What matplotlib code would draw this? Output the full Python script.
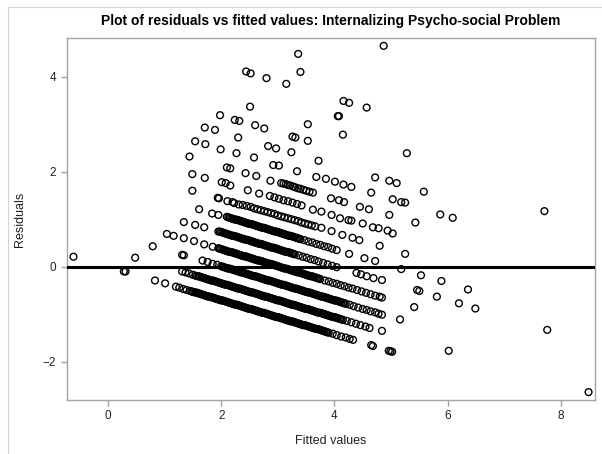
import matplotlib
matplotlib.use("Agg")
import matplotlib.pyplot as plt
from matplotlib.lines import Line2D

# (fitted value, residual) pairs, grouped by band
band0 = [(-0.61, 0.21), (0.28, -0.10), (0.31, -0.10), (0.83, -0.29), (1.01, -0.35),
         (1.20, -0.42), (1.26, -0.44), (1.33, -0.47), (1.39, -0.49),
         (1.45, -0.51), (1.50, -0.53), (1.55, -0.54), (1.60, -0.56), (1.65, -0.58),
         (1.70, -0.60), (1.75, -0.62), (1.80, -0.63), (1.85, -0.65), (1.90, -0.67),
         (1.95, -0.69), (2.00, -0.71), (2.05, -0.72), (2.10, -0.74), (2.15, -0.76),
         (2.20, -0.78), (2.25, -0.80), (2.30, -0.81), (2.35, -0.83), (2.40, -0.85),
         (2.45, -0.87), (2.50, -0.89), (2.55, -0.90), (2.60, -0.92), (2.65, -0.94),
         (2.70, -0.96), (2.75, -0.97), (2.80, -0.99), (2.85, -1.01), (2.90, -1.03),
         (2.95, -1.05), (3.00, -1.06), (3.05, -1.08), (3.10, -1.10), (3.15, -1.12),
         (3.20, -1.14), (3.25, -1.15), (3.30, -1.17), (3.35, -1.19), (3.40, -1.21),
         (3.45, -1.23), (3.50, -1.24), (3.55, -1.26), (3.60, -1.28), (3.65, -1.30),
         (3.70, -1.31), (3.75, -1.33), (3.80, -1.35), (3.85, -1.37), (3.90, -1.39),
         (3.97, -1.41), (4.04, -1.44), (4.12, -1.47), (4.20, -1.49), (4.27, -1.52),
         (4.33, -1.54), (4.65, -1.65), (4.68, -1.67), (4.96, -1.77), (4.99, -1.78),
         (5.02, -1.79)]
band0_fill = [(1.475, -0.52), (1.525, -0.54), (1.575, -0.55), (1.625, -0.57), (1.675, -0.59),
              (1.725, -0.61), (1.775, -0.63), (1.825, -0.64), (1.875, -0.66), (1.925, -0.68),
              (1.975, -0.70), (2.025, -0.71), (2.075, -0.73), (2.125, -0.75), (2.175, -0.77),
              (2.225, -0.79), (2.275, -0.80), (2.325, -0.82), (2.375, -0.84), (2.425, -0.86),
              (2.475, -0.88), (2.525, -0.89), (2.575, -0.91), (2.625, -0.93), (2.675, -0.95),
              (2.725, -0.97), (2.775, -0.98), (2.825, -1.00), (2.875, -1.02), (2.925, -1.04),
              (2.975, -1.06), (3.025, -1.07), (3.075, -1.09), (3.125, -1.11), (3.175, -1.13),
              (3.225, -1.15), (3.275, -1.16), (3.325, -1.18), (3.375, -1.20), (3.425, -1.22),
              (3.475, -1.23), (3.525, -1.25), (3.575, -1.27), (3.625, -1.29), (3.675, -1.31),
              (3.725, -1.32), (3.775, -1.34), (3.825, -1.36), (3.875, -1.38)]

band1 = [(0.48, 0.19), (1.31, -0.10), (1.37, -0.12), (1.43, -0.14), (1.50, -0.17),
         (1.55, -0.19), (1.60, -0.20), (1.65, -0.22), (1.70, -0.24), (1.75, -0.26),
         (1.80, -0.28), (1.85, -0.29), (1.90, -0.31), (1.95, -0.33), (2.00, -0.35),
         (2.05, -0.37), (2.10, -0.38), (2.15, -0.40), (2.20, -0.42), (2.25, -0.44),
         (2.30, -0.46), (2.35, -0.47), (2.40, -0.49), (2.45, -0.51), (2.50, -0.53),
         (2.55, -0.54), (2.60, -0.56), (2.65, -0.58), (2.70, -0.60), (2.75, -0.62),
         (2.80, -0.63), (2.85, -0.65), (2.90, -0.67), (2.95, -0.69), (3.00, -0.71),
         (3.05, -0.72), (3.10, -0.74), (3.15, -0.76), (3.20, -0.78), (3.25, -0.80),
         (3.30, -0.81), (3.35, -0.83), (3.40, -0.85), (3.45, -0.87), (3.50, -0.89),
         (3.55, -0.90), (3.60, -0.92), (3.65, -0.94), (3.70, -0.96), (3.75, -0.97),
         (3.80, -0.99), (3.85, -1.01), (3.90, -1.03), (3.95, -1.05), (4.00, -1.06),
         (4.05, -1.08), (4.10, -1.10), (4.15, -1.12), (4.22, -1.14), (4.30, -1.17),
         (4.38, -1.20), (4.46, -1.23), (4.55, -1.26), (4.62, -1.29), (4.84, -1.35),
         (6.02, -1.77), (8.49, -2.64)]
band1_fill = [(1.575, -0.20), (1.625, -0.21), (1.675, -0.23), (1.725, -0.25), (1.775, -0.27),
              (1.825, -0.29), (1.875, -0.30), (1.925, -0.32), (1.975, -0.34), (2.025, -0.36),
              (2.075, -0.38), (2.125, -0.39), (2.175, -0.41), (2.225, -0.43), (2.275, -0.45),
              (2.325, -0.46), (2.375, -0.48), (2.425, -0.50), (2.475, -0.52), (2.525, -0.54),
              (2.575, -0.55), (2.625, -0.57), (2.675, -0.59), (2.725, -0.61), (2.775, -0.63),
              (2.825, -0.64), (2.875, -0.66), (2.925, -0.68), (2.975, -0.70), (3.025, -0.71),
              (3.075, -0.73), (3.125, -0.75), (3.175, -0.77), (3.225, -0.79), (3.275, -0.80),
              (3.325, -0.82), (3.375, -0.84), (3.425, -0.86), (3.475, -0.88), (3.525, -0.89),
              (3.575, -0.91), (3.625, -0.93), (3.675, -0.95), (3.725, -0.97), (3.775, -0.98),
              (3.825, -1.00), (3.875, -1.02), (3.925, -1.04), (3.975, -1.06), (4.025, -1.07),
              (4.075, -1.09), (4.125, -1.11)]

band2 = [(0.79, 0.43), (1.31, 0.25), (1.34, 0.24), (1.67, 0.13), (1.76, 0.10),
         (1.85, 0.06), (1.93, 0.04), (2.00, 0.01), (2.05, -0.01), (2.10, -0.03),
         (2.15, -0.04), (2.20, -0.06), (2.25, -0.08), (2.30, -0.10), (2.35, -0.12),
         (2.40, -0.13), (2.45, -0.15), (2.50, -0.17), (2.55, -0.19), (2.60, -0.20),
         (2.65, -0.22), (2.70, -0.24), (2.75, -0.26), (2.80, -0.28), (2.85, -0.29),
         (2.90, -0.31), (2.95, -0.33), (3.00, -0.35), (3.05, -0.37), (3.10, -0.38),
         (3.15, -0.40), (3.20, -0.42), (3.25, -0.44), (3.30, -0.46), (3.35, -0.47),
         (3.40, -0.49), (3.45, -0.51), (3.50, -0.53), (3.55, -0.54), (3.60, -0.56),
         (3.65, -0.58), (3.70, -0.60), (3.75, -0.62), (3.80, -0.63), (3.85, -0.65),
         (3.90, -0.67), (3.95, -0.69), (4.00, -0.71), (4.05, -0.72), (4.10, -0.74),
         (4.15, -0.76), (4.20, -0.78), (4.27, -0.80), (4.34, -0.83), (4.42, -0.86),
         (4.50, -0.89), (4.57, -0.91), (4.64, -0.94), (4.72, -0.96), (4.78, -0.99),
         (4.84, -1.01), (5.16, -1.11)]
band2_fill = [(2.025, 0.00), (2.075, -0.02), (2.125, -0.04), (2.175, -0.05), (2.225, -0.07),
              (2.275, -0.09), (2.325, -0.11), (2.375, -0.12), (2.425, -0.14), (2.475, -0.16),
              (2.525, -0.18), (2.575, -0.20), (2.625, -0.21), (2.675, -0.23), (2.725, -0.25),
              (2.775, -0.27), (2.825, -0.29), (2.875, -0.30), (2.925, -0.32), (2.975, -0.34),
              (3.025, -0.36), (3.075, -0.38), (3.125, -0.39), (3.175, -0.41), (3.225, -0.43),
              (3.275, -0.45), (3.325, -0.46), (3.375, -0.48), (3.425, -0.50), (3.475, -0.52),
              (3.525, -0.54), (3.575, -0.55), (3.625, -0.57), (3.675, -0.59), (3.725, -0.61),
              (3.775, -0.63), (3.825, -0.64), (3.875, -0.66), (3.925, -0.68), (3.975, -0.70),
              (4.025, -0.71), (4.075, -0.73), (4.125, -0.75), (4.175, -0.77)]

band3 = [(1.04, 0.69), (1.16, 0.65), (1.34, 0.60), (1.52, 0.54), (1.70, 0.47),
         (1.85, 0.42), (1.95, 0.39), (2.00, 0.37), (2.05, 0.35), (2.10, 0.33),
         (2.15, 0.31), (2.20, 0.30), (2.25, 0.28), (2.30, 0.26), (2.35, 0.24),
         (2.40, 0.22), (2.45, 0.21), (2.50, 0.19), (2.55, 0.17), (2.60, 0.15),
         (2.65, 0.13), (2.70, 0.12), (2.75, 0.10), (2.80, 0.08), (2.85, 0.06),
         (2.90, 0.05), (2.95, 0.03), (3.00, 0.01), (3.05, -0.01), (3.10, -0.03),
         (3.15, -0.04), (3.20, -0.06), (3.25, -0.08), (3.30, -0.10), (3.35, -0.12),
         (3.40, -0.13), (3.45, -0.15), (3.50, -0.17), (3.55, -0.19), (3.60, -0.20),
         (3.65, -0.22), (3.70, -0.24), (3.75, -0.26), (3.83, -0.29), (3.90, -0.31),
         (3.97, -0.34), (4.04, -0.36), (4.11, -0.39), (4.18, -0.41), (4.25, -0.44),
         (4.32, -0.46), (4.40, -0.49), (4.48, -0.52), (4.56, -0.55), (4.64, -0.58),
         (4.72, -0.61), (4.80, -0.63), (4.84, -0.65), (5.41, -0.85)]
band3_fill = [(1.975, 0.38), (2.025, 0.36), (2.075, 0.34), (2.125, 0.32), (2.175, 0.31),
              (2.225, 0.29), (2.275, 0.27), (2.325, 0.25), (2.375, 0.23), (2.425, 0.22),
              (2.475, 0.20), (2.525, 0.18), (2.575, 0.16), (2.625, 0.14), (2.675, 0.13),
              (2.725, 0.11), (2.775, 0.09), (2.825, 0.07), (2.875, 0.06), (2.925, 0.04),
              (2.975, 0.02), (3.025, 0.00), (3.075, -0.02), (3.125, -0.04), (3.175, -0.05),
              (3.225, -0.07), (3.275, -0.09), (3.325, -0.11), (3.375, -0.12), (3.425, -0.14),
              (3.475, -0.16), (3.525, -0.18), (3.575, -0.20), (3.625, -0.21), (3.675, -0.23),
              (3.725, -0.25)]

band4 = [(1.34, 0.94), (1.54, 0.88), (1.70, 0.83), (1.95, 0.74), (2.00, 0.73),
         (2.05, 0.71), (2.10, 0.69), (2.15, 0.67), (2.20, 0.65), (2.25, 0.64),
         (2.30, 0.62), (2.35, 0.60), (2.40, 0.58), (2.45, 0.57), (2.50, 0.55),
         (2.55, 0.53), (2.60, 0.51), (2.65, 0.49), (2.70, 0.48), (2.75, 0.46),
         (2.80, 0.44), (2.85, 0.42), (2.90, 0.40), (2.95, 0.39), (3.00, 0.37),
         (3.05, 0.35), (3.10, 0.33), (3.15, 0.31), (3.20, 0.30), (3.25, 0.28),
         (3.30, 0.26), (3.37, 0.24), (3.44, 0.21), (3.51, 0.19), (3.58, 0.16),
         (3.65, 0.14), (3.72, 0.11), (3.80, 0.08), (3.88, 0.05), (3.96, 0.02),
         (4.04, -0.01), (4.39, -0.13), (4.47, -0.16), (4.57, -0.20), (4.69, -0.24),
         (4.84, -0.28), (5.46, -0.49), (5.50, -0.51), (5.81, -0.63), (6.20, -0.77),
         (6.49, -0.88), (7.76, -1.33)]
band4_fill = [(1.975, 0.74), (2.025, 0.72), (2.075, 0.70), (2.125, 0.68), (2.175, 0.66),
              (2.225, 0.65), (2.275, 0.63), (2.325, 0.61), (2.375, 0.59), (2.425, 0.57),
              (2.475, 0.56), (2.525, 0.54), (2.575, 0.52), (2.625, 0.50), (2.675, 0.48),
              (2.725, 0.47), (2.775, 0.45), (2.825, 0.43), (2.875, 0.41), (2.925, 0.40),
              (2.975, 0.38), (3.025, 0.36), (3.075, 0.34), (3.125, 0.32), (3.175, 0.31),
              (3.225, 0.29), (3.275, 0.27)]

band5 = [(1.61, 1.21), (1.84, 1.12), (1.95, 1.09), (2.10, 1.05), (2.15, 1.03),
         (2.20, 1.01), (2.25, 0.99), (2.30, 0.98), (2.35, 0.96), (2.40, 0.94),
         (2.45, 0.92), (2.50, 0.90), (2.55, 0.89), (2.60, 0.87), (2.65, 0.85),
         (2.70, 0.83), (2.75, 0.82), (2.80, 0.80), (2.85, 0.78), (2.90, 0.76),
         (2.95, 0.74), (3.00, 0.73), (3.05, 0.71), (3.10, 0.69), (3.15, 0.67),
         (3.20, 0.65), (3.25, 0.64), (3.30, 0.62), (3.35, 0.60), (3.40, 0.58),
         (3.47, 0.56), (3.54, 0.53), (3.61, 0.51), (3.68, 0.48), (3.75, 0.46),
         (3.82, 0.43), (3.89, 0.41), (3.96, 0.38), (4.04, 0.35), (4.26, 0.27),
         (4.53, 0.18), (4.72, 0.12), (5.18, -0.05), (5.53, -0.18), (5.89, -0.30),
         (6.36, -0.48)]
band5_fill = [(2.125, 1.04), (2.175, 1.02), (2.225, 1.00), (2.275, 0.99), (2.325, 0.97),
              (2.375, 0.95), (2.425, 0.93), (2.475, 0.91), (2.525, 0.90), (2.575, 0.88),
              (2.625, 0.86), (2.675, 0.84), (2.725, 0.82), (2.775, 0.81), (2.825, 0.79),
              (2.875, 0.77), (2.925, 0.75), (2.975, 0.74), (3.025, 0.72), (3.075, 0.70),
              (3.125, 0.68), (3.175, 0.66), (3.225, 0.65), (3.275, 0.63), (3.325, 0.61),
              (3.375, 0.59)]

band6 = [(1.49, 1.60), (1.94, 1.45), (1.96, 1.44), (2.11, 1.38), (2.20, 1.36),
         (2.23, 1.34), (2.31, 1.31), (2.38, 1.30), (2.45, 1.28), (2.52, 1.26),
         (2.58, 1.23), (2.64, 1.21), (2.70, 1.19), (2.76, 1.17), (2.82, 1.15),
         (2.88, 1.13), (2.94, 1.11), (3.00, 1.08), (3.06, 1.06), (3.12, 1.04),
         (3.18, 1.02), (3.24, 1.00), (3.30, 0.98), (3.36, 0.96), (3.42, 0.93),
         (3.48, 0.91), (3.54, 0.89), (3.60, 0.87), (3.66, 0.85), (3.77, 0.82),
         (3.95, 0.75), (4.14, 0.67), (4.32, 0.61), (4.44, 0.56), (4.80, 0.44),
         (5.25, 0.27)]

band7 = [(1.49, 1.95), (1.71, 1.87), (2.01, 1.78), (2.08, 1.76), (2.16, 1.71),
         (2.47, 1.61), (2.67, 1.54), (2.86, 1.49), (2.94, 1.46), (3.02, 1.43),
         (3.10, 1.40), (3.18, 1.38), (3.26, 1.35), (3.34, 1.32), (3.42, 1.29),
         (3.62, 1.20), (3.77, 1.16), (3.95, 1.09), (4.10, 1.02), (4.25, 0.98),
         (4.30, 0.97), (4.50, 0.91), (4.68, 0.83), (4.78, 0.81), (4.94, 0.76),
         (5.03, 0.70)]

band8 = [(1.44, 2.32), (2.10, 2.09), (2.16, 2.07), (2.43, 1.97), (2.62, 1.91),
         (2.87, 1.81), (3.06, 1.76), (3.10, 1.75), (3.14, 1.74), (3.18, 1.72),
         (3.22, 1.71), (3.27, 1.69), (3.31, 1.67), (3.36, 1.65), (3.40, 1.64),
         (3.45, 1.62), (3.50, 1.60), (3.56, 1.58), (3.62, 1.56), (3.94, 1.44),
         (4.08, 1.40), (4.17, 1.36), (4.45, 1.26), (4.61, 1.21), (4.97, 1.09),
         (5.43, 0.93)]

upper = [(1.99, 2.47), (2.27, 2.39), (2.58, 2.30), (2.92, 2.14), (3.02, 2.13),
         (3.34, 2.01), (3.68, 1.89), (3.85, 1.85), (4.01, 1.79), (4.16, 1.73),
         (4.30, 1.68), (4.65, 1.56), (5.03, 1.42), (5.18, 1.36), (5.25, 1.35),
         (5.87, 1.10), (6.09, 1.03), (1.54, 2.64), (1.72, 2.58), (1.71, 2.93),
         (1.89, 2.88), (1.98, 3.19), (2.24, 3.09), (2.32, 3.07), (2.30, 2.72),
         (2.83, 2.54), (2.97, 2.49), (3.24, 2.41), (3.72, 2.23), (4.72, 1.88),
         (4.97, 1.81), (5.10, 1.76), (5.58, 1.58), (3.26, 2.74), (3.31, 2.72),
         (3.53, 2.65), (4.15, 2.78), (5.28, 2.39), (2.60, 2.98), (2.76, 2.91),
         (3.53, 3.00), (2.51, 3.37), (4.06, 3.17), (4.08, 3.17), (4.16, 3.49),
         (4.26, 3.45), (4.57, 3.35), (2.44, 4.11), (2.52, 4.07), (2.80, 3.97),
         (3.15, 3.85), (3.40, 4.10), (3.36, 4.48), (4.87, 4.65), (7.71, 1.17)]

title_text = "Plot of residuals vs fitted values: Internalizing Psycho-social Problem"
x_label = "Fitted values"
y_label = "Residuals"
x_ticks = [0, 2, 4, 6, 8]
y_ticks = [-2, 0, 2, 4]

points = (band0 + band0_fill + band1 + band1_fill + band2 + band2_fill +
          band3 + band3_fill + band4 + band4_fill + band5 + band5_fill +
          band6 + band7 + band8 + upper)
fitted = [p[0] for p in points]
resid = [p[1] for p in points]

plt.rcParams['font.family'] = ['Liberation Sans', 'DejaVu Sans']

W, H = 602, 454
fig = plt.figure(figsize=(W / 100, H / 100), dpi=100)
ax = fig.add_axes([66.5 / W, 1 - 400 / H, (595 - 66.5) / W, (400 - 38) / H])

ax.scatter(fitted, resid, s=24, facecolors='none', edgecolors='black',
           linewidths=1.0, zorder=2)
ax.axhline(0, color='black', lw=2.2, zorder=3)

ax.set_xlim(-0.733, 8.604)
ax.set_ylim(-2.806, 4.815)
ax.set_xticks(x_ticks)
ax.set_yticks(y_ticks)
for s in ax.spines.values():
    s.set_color('#a3a3a3')
    s.set_linewidth(1.0)
ax.tick_params(axis='both', colors='#a3a3a3', labelcolor='#222222', length=4,
               width=1, labelsize=8.5)
ax.set_xlabel(x_label, fontsize=9, color='#222222', labelpad=9)
ax.set_ylabel(y_label, fontsize=9, color='#222222', labelpad=12)

fig.text((66.5 + 595) / 2 / W, 1 - 21 / H, title_text, ha='center', va='center',
         fontsize=10, fontweight='bold', color='black')

# light outer frame of the output panel
fig.add_artist(Line2D([7.5 / W, 7.5 / W], [0, 1 - 6.5 / H], transform=fig.transFigure,
                      color='#d4d4d4', lw=0.8))
fig.add_artist(Line2D([7.5 / W, 1], [1 - 6.5 / H, 1 - 6.5 / H], transform=fig.transFigure,
                      color='#d4d4d4', lw=0.8))

fig.savefig('out.png', dpi=100)
